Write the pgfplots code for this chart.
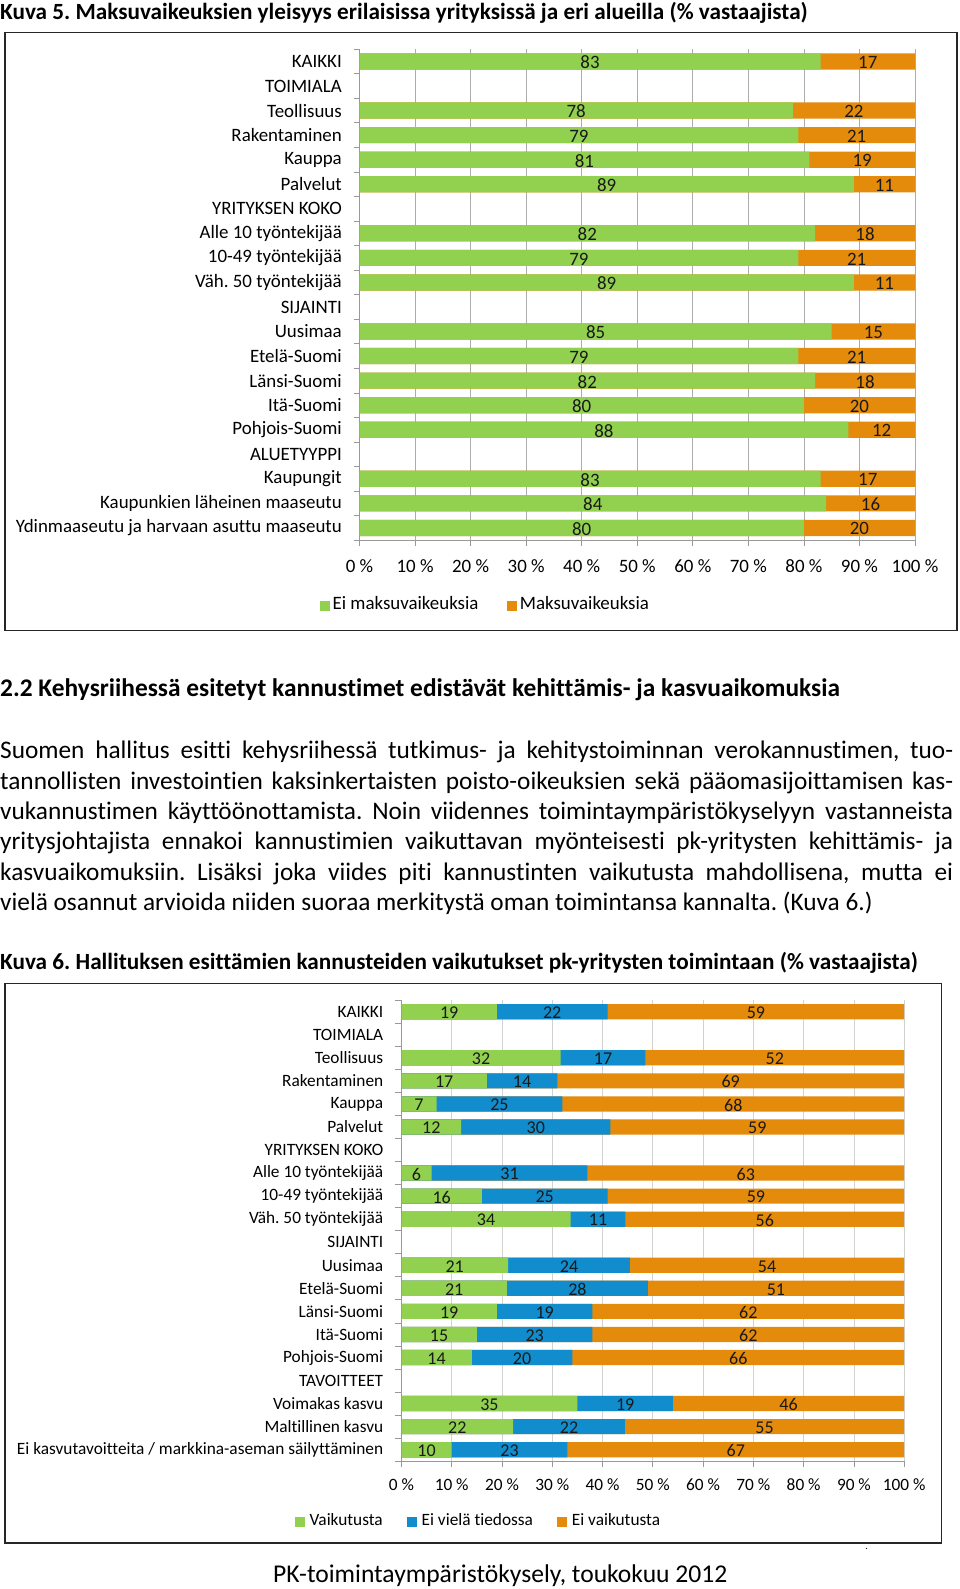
\documentclass[border=0pt]{standalone}
\usepackage{fontspec}
\setmainfont{Carlito}[Ligatures=NoCommon]
\usepackage{pgfplots}
\pgfplotsset{compat=1.18}
\usepackage{pgfplotstable}
\definecolor{cgreen}{RGB}{146,208,80}
\definecolor{corange}{RGB}{228,139,12}
\definecolor{cblue}{RGB}{17,140,204}

\pgfplotstableread{
y a b
0 83 17
2 78 22
3 79 21
4 81 19
5 89 11
7 82 18
8 79 21
9 89 11
11 85 15
12 79 21
13 82 18
14 80 20
15 88 12
17 83 17
18 84 16
19 80 20
}\dataA

\pgfplotstableread{
y a b c
0 19 22 59
2 32 17 52
3 17 14 69
4 7 25 68
5 12 30 59
7 6 31 63
8 16 25 59
9 34 11 56
11 21 24 54
12 21 28 51
13 19 19 62
14 15 23 62
15 14 20 66
17 35 19 46
18 22 22 55
19 10 23 67
}\dataB

\newcommand{\fA}{\fontsize{18.9}{22}\selectfont}
\newcommand{\fB}{\fontsize{17.3}{20}\selectfont}

\begin{document}
\frenchspacing
\begin{tikzpicture}
\path[use as bounding box] (0pt,0pt) rectangle (960pt,-1589pt);

% ---------- texts ----------
\node[anchor=base west, inner sep=0pt] at (0pt,-19.9pt) {\fontsize{23.2}{27}\selectfont\bfseries Kuva 5. Maksuvaikeuksien yleisyys erilaisissa yrityksissä ja eri alueilla (\% vastaajista)};
\node[anchor=base west, inner sep=0pt] at (0pt,-696pt) {\fontsize{25.4}{30}\selectfont\bfseries 2.2 Kehysriihessä esitetyt kannustimet edistävät kehittämis- ja kasvuaikomuksia};
\begin{scope}[every node/.style={anchor=base west, inner sep=0pt, font=\fontsize{25.3}{30}\selectfont}]
\node at (0pt,-758.7pt) {\makebox[953pt][s]{Suomen hallitus esitti kehysriihessä tutkimus- ja kehitystoiminnan verokannustimen, tuo-}};
\node at (0pt,-789.1pt) {\makebox[953pt][s]{tannollisten investointien kaksinkertaisten poisto-oikeuksien sekä pääomasijoittamisen kas-}};
\node at (0pt,-819.5pt) {\makebox[953pt][s]{vukannustimen käyttöönottamista. Noin viidennes toimintaympäristökyselyyn vastanneista}};
\node at (0pt,-849.9pt) {\makebox[953pt][s]{yritysjohtajista ennakoi kannustimien vaikuttavan myönteisesti pk-yritysten kehittämis- ja}};
\node at (0pt,-880.3pt) {\makebox[953pt][s]{kasvuaikomuksiin. Lisäksi joka viides piti kannustinten vaikutusta mahdollisena, mutta ei}};
\node at (0pt,-910.7pt) {vielä osannut arvioida niiden suoraa merkitystä oman toimintansa kannalta. (Kuva 6.)};
\end{scope}
\node[anchor=base west, inner sep=0pt] at (0pt,-969.7pt) {\fontsize{23.2}{27}\selectfont\bfseries Kuva 6. Hallituksen esittämien kannusteiden vaikutukset pk-yritysten toimintaan (\% vastaajista)};
\node[anchor=base, inner sep=0pt] at (500.2pt,-1582pt) {\fontsize{25.6}{30}\selectfont PK-toimintaympäristökysely, toukokuu 2012};
\node[anchor=base, inner sep=0pt] at (866.7pt,-1549pt) {\fontsize{10}{12}\selectfont .};

% boxes
\draw[line width=1.5pt, black!85] (5pt,-32.4pt) rectangle (957pt,-630.5pt);
\draw[line width=1.5pt, black!85] (5pt,-983.3pt) rectangle (941.7pt,-1542.9pt);

% ---------- chart 1 ----------
\begin{axis}[
  at={(359.5pt,-540.2pt)}, anchor=south west,
  scale only axis, width=555.5pt, height=491pt,
  xmin=0, xmax=100, ymin=-19.5, ymax=0.5,
  enlargelimits=false, clip=false,
  axis x line*=bottom, axis y line*=left,
  axis line style={-, draw=gray!80, line width=0.8pt},
  /pgf/number format/assume math mode=true,
  tick align=outside, major tick length=6pt,
  xtick={0,10,...,100},
  xticklabels={0 \%,10 \%,20 \%,30 \%,40 \%,50 \%,60 \%,70 \%,80 \%,90 \%,100 \%},
  xtick style={draw=gray!80, line width=0.8pt},
  xmajorgrids, grid style={draw=gray!65, line width=0.8pt},
  ytick={-19,-18,...,0},
  yticklabels={Ydinmaaseutu ja harvaan asuttu maaseutu, Kaupunkien läheinen maaseutu, Kaupungit, ALUETYYPPI, Pohjois-Suomi, Itä-Suomi, Länsi-Suomi, Etelä-Suomi, Uusimaa, SIJAINTI, Väh. 50 työntekijää, 10-49 työntekijää, Alle 10 työntekijää, YRITYKSEN KOKO, Palvelut, Kauppa, Rakentaminen, Teollisuus, TOIMIALA, KAIKKI},
  ytick style={draw=none},
  extra y ticks={-19.5,-18.5,...,0.5},
  extra y tick labels={},
  extra y tick style={ytick style={draw=gray!80, line width=0.8pt}, ymajorgrids=false, xmajorgrids=false},
  tick label style={font=\fA, text=black},
  xticklabel style={anchor=north, inner sep=0pt, yshift=-13pt},
  yticklabel style={anchor=east, inner sep=0pt, xshift=-11.5pt},
  legend columns=-1,
  legend style={at={(axis description cs:-0.0711,-0.1299)}, anchor=west, draw=none, fill=none, inner sep=0pt, font=\fA,
    nodes={inner sep=0pt, anchor=base west}, /tikz/every odd column/.append style={column sep=3pt}, /tikz/every even column/.append style={column sep=29pt}},
  nodes near coords style={font=\fA, text=black!90, inner sep=0pt, yshift=-1pt},
]
\addlegendimage{legend image code/.code={\fill[cgreen] (0pt,-0.5pt) rectangle (9pt,8.5pt);}}
\addlegendimage{legend image code/.code={\fill[corange] (0pt,-0.5pt) rectangle (9pt,8.5pt);}}
\addplot[xbar, bar shift=0pt, bar width=16.2pt, fill=corange, draw=none, forget plot] table[x expr=\thisrow{a}+\thisrow{b}, y expr=-\thisrow{y}] {\dataA};
\addplot[xbar, bar shift=0pt, bar width=16.2pt, fill=cgreen, draw=none, forget plot] table[x=a, y expr=-\thisrow{y}] {\dataA};
\addplot[only marks, mark=none, forget plot, nodes near coords, nodes near coords align=center, point meta=explicit] table[x expr=\thisrow{a}/2, y expr=-\thisrow{y}, meta=a] {\dataA};
\addplot[only marks, mark=none, forget plot, nodes near coords, nodes near coords align=center, point meta=explicit] table[x expr=\thisrow{a}+\thisrow{b}/2, y expr=-\thisrow{y}, meta=b] {\dataA};
\legend{Ei maksuvaikeuksia, Maksuvaikeuksia}
\end{axis}

% ---------- chart 2 ----------
\begin{axis}[
  at={(401.4pt,-1461.2pt)}, anchor=south west,
  scale only axis, width=502.8pt, height=461pt,
  xmin=0, xmax=100, ymin=-19.5, ymax=0.5,
  enlargelimits=false, clip=false,
  axis x line*=bottom, axis y line*=left,
  axis line style={-, draw=gray!80, line width=0.8pt},
  /pgf/number format/assume math mode=true,
  tick align=outside, major tick length=6pt,
  xtick={0,10,...,100},
  xticklabels={0 \%,10 \%,20 \%,30 \%,40 \%,50 \%,60 \%,70 \%,80 \%,90 \%,100 \%},
  xtick style={draw=gray!80, line width=0.8pt},
  xmajorgrids, grid style={draw=gray!35, line width=0.8pt},
  ytick={-19,-18,...,0},
  yticklabels={Ei kasvutavoitteita / markkina-aseman säilyttäminen, Maltillinen kasvu, Voimakas kasvu, TAVOITTEET, Pohjois-Suomi, Itä-Suomi, Länsi-Suomi, Etelä-Suomi, Uusimaa, SIJAINTI, Väh. 50 työntekijää, 10-49 työntekijää, Alle 10 työntekijää, YRITYKSEN KOKO, Palvelut, Kauppa, Rakentaminen, Teollisuus, TOIMIALA, KAIKKI},
  ytick style={draw=none},
  extra y ticks={-19.5,-18.5,...,0.5},
  extra y tick labels={},
  extra y tick style={ytick style={draw=gray!80, line width=0.8pt}, ymajorgrids=false, xmajorgrids=false},
  tick label style={font=\fB, text=black},
  xticklabel style={anchor=north, inner sep=0pt, yshift=-11.5pt},
  yticklabel style={anchor=east, inner sep=0pt, xshift=-12pt},
  legend columns=-1,
  legend style={at={(axis description cs:-0.2116,-0.1275)}, anchor=west, draw=none, fill=none, inner sep=0pt, font=\fB,
    nodes={inner sep=0pt, anchor=base west}, /tikz/every odd column/.append style={column sep=5pt}, /tikz/every even column/.append style={column sep=24.5pt}},
  nodes near coords style={font=\fontsize{18}{20}\selectfont, text=black!90, inner sep=0pt, yshift=-1pt},
]
\addlegendimage{legend image code/.code={\fill[cgreen] (0pt,-0.5pt) rectangle (9pt,8.5pt);}}
\addlegendimage{legend image code/.code={\fill[cblue] (0pt,-0.5pt) rectangle (9pt,8.5pt);}}
\addlegendimage{legend image code/.code={\fill[corange] (0pt,-0.5pt) rectangle (9pt,8.5pt);}}
\addplot[xbar, bar shift=0pt, bar width=15.2pt, fill=corange, draw=none, forget plot] table[x expr=100, y expr=-\thisrow{y}] {\dataB};
\addplot[xbar, bar shift=0pt, bar width=15.2pt, fill=cblue, draw=none, forget plot] table[x expr=100*(\thisrow{a}+\thisrow{b})/(\thisrow{a}+\thisrow{b}+\thisrow{c}), y expr=-\thisrow{y}] {\dataB};
\addplot[xbar, bar shift=0pt, bar width=15.2pt, fill=cgreen, draw=none, forget plot] table[x expr=100*\thisrow{a}/(\thisrow{a}+\thisrow{b}+\thisrow{c}), y expr=-\thisrow{y}] {\dataB};
\addplot[only marks, mark=none, forget plot, nodes near coords, nodes near coords align=center, point meta=explicit] table[x expr=50*\thisrow{a}/(\thisrow{a}+\thisrow{b}+\thisrow{c}), y expr=-\thisrow{y}, meta=a] {\dataB};
\addplot[only marks, mark=none, forget plot, nodes near coords, nodes near coords align=center, point meta=explicit] table[x expr=100*(\thisrow{a}+0.5*\thisrow{b})/(\thisrow{a}+\thisrow{b}+\thisrow{c}), y expr=-\thisrow{y}, meta=b] {\dataB};
\addplot[only marks, mark=none, forget plot, nodes near coords, nodes near coords align=center, point meta=explicit] table[x expr=100*(\thisrow{a}+\thisrow{b}+0.5*\thisrow{c})/(\thisrow{a}+\thisrow{b}+\thisrow{c}), y expr=-\thisrow{y}, meta=c] {\dataB};
\legend{Vaikutusta, Ei vielä tiedossa, Ei vaikutusta}
\end{axis}
\end{tikzpicture}
\end{document}
